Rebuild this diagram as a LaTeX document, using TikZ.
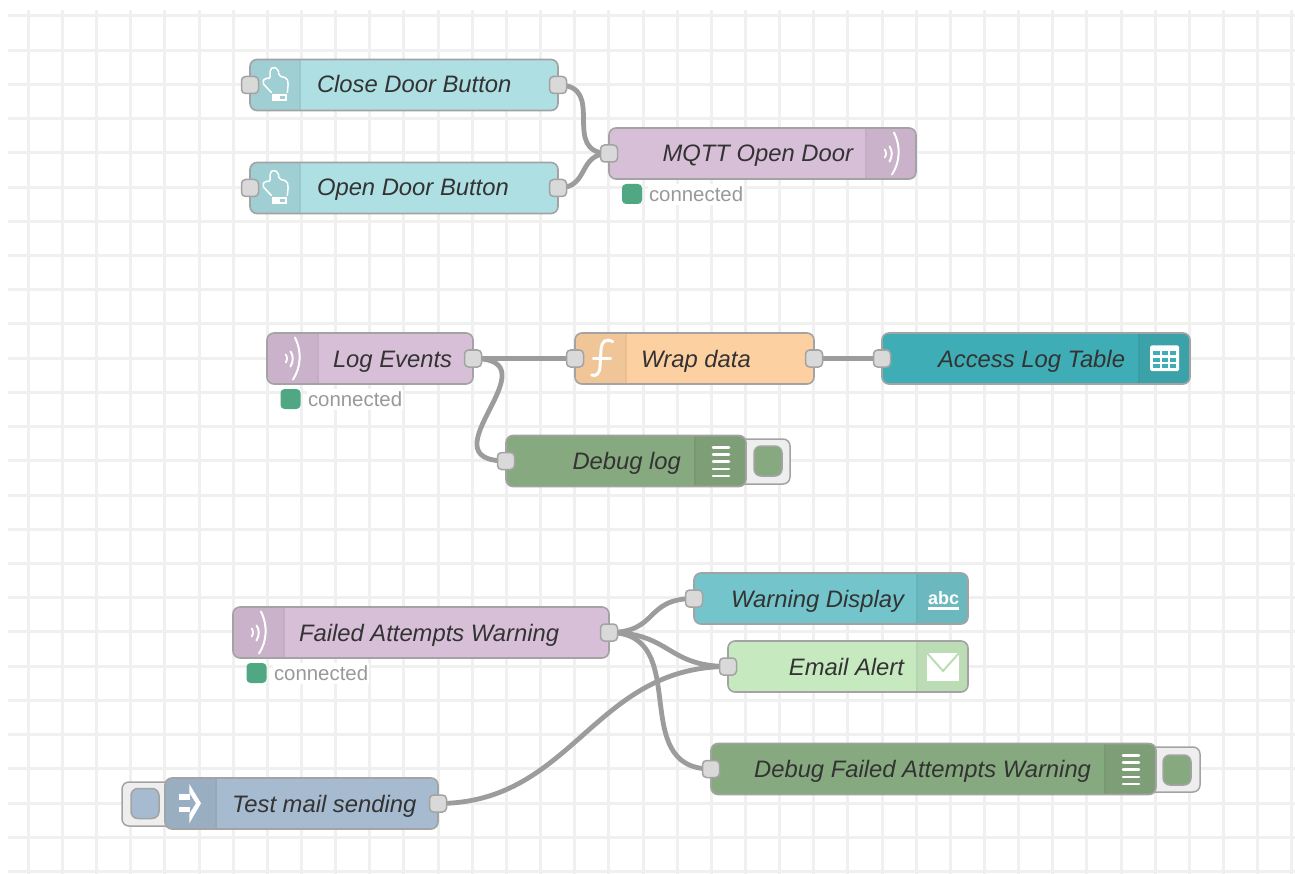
\documentclass[tikz,border=0pt]{standalone}
\usepackage{fontspec}
\setmainfont{Liberation Sans}
\pgfdeclarelayer{gridlayer}
\pgfdeclarelayer{wirelayer}
\pgfsetlayers{gridlayer,wirelayer,main}
\definecolor{gridc}{HTML}{F0F0F0}
\definecolor{edge}{HTML}{A3A3A3}
\definecolor{wirec}{HTML}{9C9C9C}
\definecolor{portc}{HTML}{D9D9D9}
\definecolor{textc}{HTML}{333333}
\definecolor{btn}{HTML}{AEDFE3}
\definecolor{btnd}{HTML}{9FCFD3}
\definecolor{mqtt}{HTML}{D8BFD8}
\definecolor{mqttd}{HTML}{CAB2CB}
\definecolor{func}{HTML}{FDD0A2}
\definecolor{funcd}{HTML}{F0C598}
\definecolor{tabl}{HTML}{3FADB5}
\definecolor{tabld}{HTML}{3BA2AA}
\definecolor{dbg}{HTML}{87A980}
\definecolor{dbgd}{HTML}{7D9E76}
\definecolor{warn}{HTML}{73C5CB}
\definecolor{warnd}{HTML}{6BB8BF}
\definecolor{mail}{HTML}{C7E9C0}
\definecolor{maild}{HTML}{BBDCB5}
\definecolor{inj}{HTML}{A6BBCF}
\definecolor{injd}{HTML}{9AAEC1}
\definecolor{stat}{HTML}{4FA883}
\definecolor{statt}{HTML}{999999}
\definecolor{btnbg}{HTML}{EEEEEE}
\tikzset{
  nodebox/.style={draw=edge,line width=1.6pt,rounded corners=7pt,inner sep=0pt,outer sep=0pt,anchor=north west,minimum height=51pt},
  iconleft/.style 2 args={path picture={
    \fill[fill=#1,sharp corners] (path picture bounding box.north west) rectangle ([xshift=#2pt]path picture bounding box.south west);
    \draw[draw=black!3!#1,line width=1.2pt,sharp corners] ([xshift=#2pt]path picture bounding box.north west) -- ([xshift=#2pt]path picture bounding box.south west);}},
  iconright/.style 2 args={path picture={
    \fill[fill=#1,sharp corners] (path picture bounding box.north east) rectangle ([xshift=-#2pt]path picture bounding box.south east);
    \draw[draw=black!3!#1,line width=1.2pt,sharp corners] ([xshift=-#2pt]path picture bounding box.north east) -- ([xshift=-#2pt]path picture bounding box.south east);}},
  portbox/.style={draw=edge,fill=portc,line width=1.5pt,rounded corners=4pt,minimum width=17pt,minimum height=17pt,inner sep=0pt,outer sep=0pt},
  wire/.style={draw=wirec,line width=4.8pt,line cap=round},
  lab/.style={inner sep=0pt,outer sep=0pt,text=textc,font=\fontsize{23.8}{28}\selectfont\itshape},
  labw/.style={lab,anchor=base west},
  labe/.style={lab,anchor=base east},
  statbox/.style={fill=stat,rounded corners=4pt,minimum width=20pt,minimum height=20pt,inner sep=0pt,outer sep=0pt,anchor=north west},
  stattext/.style={anchor=base west,fill=white,inner xsep=1pt,inner ysep=3pt,outer sep=0pt,text=statt,font=\fontsize{20.4}{24}\selectfont},
  sidebtn/.style={draw=edge,fill=btnbg,line width=1.5pt,rounded corners=7pt,inner sep=0pt,outer sep=0pt,anchor=north west},
  sidein/.style={draw=edge,line width=1.5pt,rounded corners=7pt,inner sep=0pt,outer sep=0pt,anchor=north west,minimum width=28pt,minimum height=30pt},
  pics/hand/.style={code={
    \draw[white,line width=1.5pt,rounded corners=2pt] (21.7,33.3) -- (12.3,23.3) -- (15,18.3) -- (20,19.3) -- (20,10) -- (23.3,7.3) -- (28.3,10) -- (29,16.7) -- (36.7,18.3) -- (38.3,23.3) -- (37.3,33.3);
    \fill[white] (21.7,35) rectangle (37,42);
    \fill[btnd] (30,37) rectangle (34.5,39.5);
  }},
  pics/waves/.style={code={
    \draw[white,line width=2pt,line cap=round] (2.5,-21) .. controls (9,-8) and (9,8) .. (0.5,21);
    \draw[white,line width=2pt,line cap=round] (-2,-7) .. controls (1,-3) and (1,3) .. (-2,8);
    \draw[white,line width=1.8pt,line cap=round] (-6.8,-4) .. controls (-5,-1) and (-5,1) .. (-6.8,4);
  }},
  pics/dbglines/.style={code={
    \foreach \yy in {-14.4,-7.2,0,7.2,14.4}
      \draw[white,line width=2.5pt,line cap=round] (-8,\yy) -- (8,\yy);
  }}
}
\begin{document}
\begin{tikzpicture}[x=1pt,y=-1pt]
\useasboundingbox (0,0) rectangle (1295,874);
\begin{pgfonlayer}{gridlayer}
  \fill[white] (0,0) rectangle (1295,874);
  \foreach \k in {0,...,25}
    \draw[gridc,line width=3pt] (8,{16+34.22*\k}) -- (1295,{16+34.22*\k});
  \foreach \k in {0,...,37}
    \draw[gridc,line width=3pt] ({28.3+34.15*\k},10) -- ({28.3+34.15*\k},874);
\end{pgfonlayer}

% side buttons (under their nodes)
\node[sidebtn,minimum width=60pt,minimum height=45pt] (dlbtn) at (730,439) {};
\node[sidein,fill=dbg] (dlbtnin) at (754,446) {};
\node[sidebtn,minimum width=60pt,minimum height=45pt] (dfbtn) at (1140,747) {};
\node[sidein,fill=dbg] (dfbtnin) at (1163,755) {};
\node[sidebtn,minimum width=60pt,minimum height=44pt] (tmbtn) at (122,782) {};
\node[sidein,fill=inj] (tmbtnin) at (131,788.5) {};

% flow nodes
\node[nodebox,fill=btn,minimum width=308pt,iconleft={btnd}{50}] (close) at (250,59.5) {};
\node[nodebox,fill=btn,minimum width=308pt,iconleft={btnd}{50}] (open) at (250,162.5) {};
\node[nodebox,fill=mqtt,minimum width=307pt,iconright={mqttd}{50}] (mq) at (609,128) {};
\node[nodebox,fill=mqtt,minimum width=206pt,iconleft={mqttd}{51}] (log) at (267,333) {};
\node[nodebox,fill=func,minimum width=239pt,iconleft={funcd}{51}] (wrap) at (575,333) {};
\node[nodebox,fill=tabl,minimum width=308pt,iconright={tabld}{51}] (table) at (882,333) {};
\node[nodebox,fill=dbg,minimum width=240pt,iconright={dbgd}{51}] (dl) at (506,435.5) {};
\node[nodebox,fill=mqtt,minimum width=376pt,iconleft={mqttd}{51}] (fail) at (233,607) {};
\node[nodebox,fill=warn,minimum width=274pt,iconright={warnd}{51}] (warn) at (694,573) {};
\node[nodebox,fill=mail,minimum width=240pt,iconright={maild}{51}] (mailn) at (728,641) {};
\node[nodebox,fill=dbg,minimum width=445pt,iconright={dbgd}{51}] (df) at (711,743.5) {};
\node[nodebox,fill=inj,minimum width=273pt,iconleft={injd}{51}] (tm) at (165,778) {};

% labels
\node[labw] (lclose) at (317,93) {Close Door Button};
\node[labw] (lopen) at (317,196) {Open Door Button};
\node[labe] (lmq) at (853,161.5) {MQTT Open Door};
\node[labw] (llog) at (333,367) {Log Events};
\node[labw] (lwrap) at (641,367) {Wrap data};
\node[labe] (ltable) at (1125,367) {Access Log Table};
\node[labe] (ldl) at (681,469.5) {Debug log};
\node[labw] (lfail) at (299,641) {Failed Attempts Warning};
\node[labe] (lwarn) at (904,607) {Warning Display};
\node[labe] (lmail) at (904,675) {Email Alert};
\node[labe] (ldf) at (1091,777.5) {Debug Failed Attempts Warning};
\node[labw] (ltm) at (232,812) {Test mail sending};

% status
\node[stattext] (smqt) at (648,201.5) {connected};
\node[statbox] (smq) at (622,184) {};
\node[stattext] (slogt) at (307,406.5) {connected};
\node[statbox] (slog) at (280.5,389) {};
\node[stattext] (sfailt) at (273,680.5) {connected};
\node[statbox] (sfail) at (246.5,663) {};

% icons
\pic at (close.north west) {hand};
\pic at (open.north west) {hand};
\pic at (891.5,153.5) {waves};
\pic at (292.5,358.5) {waves};
\pic at (258.5,632.5) {waves};
\begin{scope}[shift={(wrap.north west)}]
  \draw[white,line width=3pt,line cap=round] (37.7,8.7) .. controls (31,5) and (26.5,8) .. (26,17) -- (25,33.7) .. controls (24.5,41) and (21,43.5) .. (16.7,42);
  \draw[white,line width=2.8pt,line cap=round] (18.3,25.3) -- (35.7,25.3);
\end{scope}
\fill[white,rounded corners=1.5pt] (1150,345.5) rectangle (1179,371);
\foreach \cx/\cw in {1153/6.8,1161.5/6.5,1170/6.3}
  \foreach \cy/\ch in {351/4,357.5/4,364/4}
    \fill[tabl] (\cx,\cy) rectangle ++(\cw,\ch);
\pic at (721,461.7) {dbglines};
\pic at (1131,769.7) {dbglines};
\node[inner sep=0pt,text=white,font=\fontsize{18}{20}\selectfont\bfseries,anchor=base] (abc) at (943.5,604) {abc};
\fill[white] (928,606.5) rectangle (959,610);
\fill[white] (927,653) rectangle (959,681);
\draw[maild,line width=2pt] (927,653) -- (943,671) -- (959,653);
\begin{scope}[shift={(tm.north west)}]
  \fill[white] (24.3,6) -- (36,25.3) -- (24.3,45.3) -- (24.3,36) -- (31,25.3) -- (24.3,14.7) -- cycle;
  \fill[white] (14.3,16.3) rectangle (25,22);
  \fill[white] (14.3,28.7) rectangle (25,34.3);
\end{scope}

% ports
\node[portbox] (pcloseI) at (close.west) {};
\node[portbox] (pcloseO) at (close.east) {};
\node[portbox] (popenI) at (open.west) {};
\node[portbox] (popenO) at (open.east) {};
\node[portbox] (pmqI) at (mq.west) {};
\node[portbox] (plogO) at (log.east) {};
\node[portbox] (pwrapI) at (wrap.west) {};
\node[portbox] (pwrapO) at (wrap.east) {};
\node[portbox] (ptableI) at (table.west) {};
\node[portbox] (pdlI) at (dl.west) {};
\node[portbox] (pfailO) at (fail.east) {};
\node[portbox] (pwarnI) at (warn.west) {};
\node[portbox] (pmailI) at (mailn.west) {};
\node[portbox] (pdfI) at (df.west) {};
\node[portbox] (ptmO) at (tm.east) {};

% wires
\begin{pgfonlayer}{wirelayer}
  \draw[wire] (pcloseO.center) .. controls +(50,0) and +(-50,0) .. (pmqI.center);
  \draw[wire] (popenO.center) .. controls +(32,0) and +(-32,0) .. (pmqI.center);
  \draw[wire] (plogO.center) -- (pwrapI.center);
  \draw[wire] (plogO.center) .. controls +(85,0) and +(-85,0) .. (pdlI.center);
  \draw[wire] (pwrapO.center) -- (ptableI.center);
  \draw[wire] (pfailO.center) .. controls +(50,0) and +(-50,0) .. (pwarnI.center);
  \draw[wire] (pfailO.center) .. controls +(62,0) and +(-62,0) .. (pmailI.center);
  \draw[wire] (pfailO.center) .. controls +(85,0) and +(-85,0) .. (pdfI.center);
  \draw[wire] (ptmO.center) .. controls +(135,0) and +(-135,0) .. (pmailI.center);
\end{pgfonlayer}
\end{tikzpicture}
\end{document}
